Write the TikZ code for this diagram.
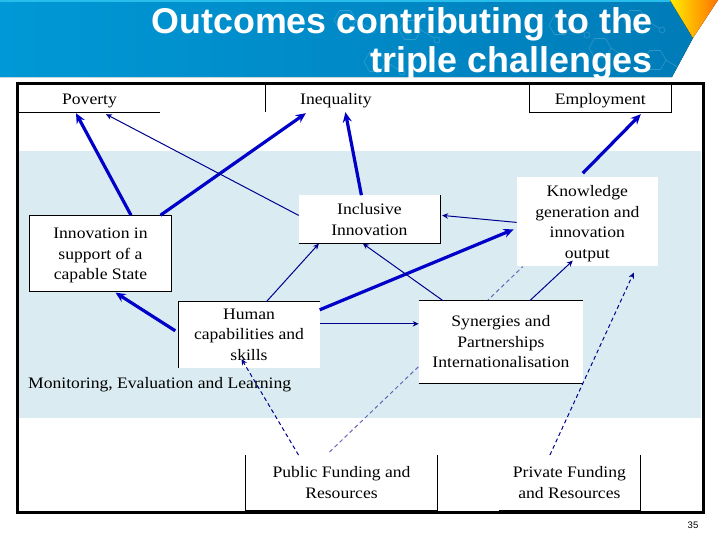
\documentclass[tikz,border=0pt]{standalone}
\usepackage{fontspec}
\setmainfont[FakeStretch=1.1]{Liberation Serif}
\newfontfamily\titlefont{Liberation Sans}
\usetikzlibrary{arrows.meta, positioning, calc, backgrounds}
\definecolor{bandblue}{RGB}{218,236,241}
\definecolor{headtop}{RGB}{0,152,214}
\definecolor{headlow}{RGB}{0,124,184}
\definecolor{headline}{RGB}{40,190,235}
\definecolor{arrowblue}{RGB}{0,0,200}
\definecolor{thinblue}{RGB}{0,0,140}

\begin{document}
\begin{tikzpicture}[
  x=1pt, y=-1pt,
  box/.style={fill=white, inner sep=0pt, minimum width=141pt, align=center,
              font=\fontsize{16}{20.4}\selectfont},
  lowbox/.style={box, text height=14.5pt},
  edge/.style={draw=black, line width=0.8pt},
  thickarr/.style={-{Stealth[length=10pt,width=9pt]}, line width=3.2pt, arrowblue},
  thinarr/.style={-{Stealth[length=6pt,width=5.5pt]}, line width=1pt, thinblue},
  dasharr/.style={-{Stealth[length=6pt,width=5.5pt]}, line width=1pt, thinblue, dash pattern=on 4pt off 3pt},
  hiddenarr/.style={line width=1pt, thinblue!60, dash pattern=on 4pt off 3pt},
  motif/.style={draw=white, opacity=0.18, line width=0.6pt}
]
\useasboundingbox (0,0) rectangle (720,539);
% Header
\fill[left color=headtop, right color=headlow] (0,0) -- (670,0) -- (693,38) -- (672,77) -- (0,77) -- cycle;
\fill[headline] (0,0) rectangle (670,1.5);
\fill[left color=yellow!85!orange, right color=orange!90!red] (670,0) -- (718,0) -- (693,38) -- cycle;
\foreach \cx/\cy in {345/20, 375/62, 410/30, 560/25, 600/48, 635/20, 655/60}{
  \draw[motif] (\cx+11,\cy) -- (\cx+5.5,\cy+9.5) -- (\cx-5.5,\cy+9.5) -- (\cx-11,\cy) -- (\cx-5.5,\cy-9.5) -- (\cx+5.5,\cy-9.5) -- cycle;
  \draw[motif] (\cx+11,\cy) -- (\cx+24,\cy+8);
  \draw[motif] (\cx+27,\cy+10) circle (3);
}
\node[anchor=north east, align=right, text=white, inner sep=0pt, font=\titlefont\fontsize{35.8}{39}\selectfont\bfseries] (title) at (653,7)
  {Outcomes contributing to the\\ triple challenges};
% Frame
\begin{scope}[on background layer]
\node[fill=bandblue, minimum width=682pt, minimum height=267pt, inner sep=0pt] (band) at (360,284.5) {};
\end{scope}
\node[draw=black, line width=3pt, minimum width=686pt, minimum height=429pt, inner sep=0pt] (frame) at (360,298) {};
% Top row
\node[lowbox, minimum height=27pt] (pov) at (89.5,98.5) {Poverty};
\node[lowbox, minimum height=27pt, right=105pt of pov] (ineq) {Inequality};
\node[lowbox, minimum height=27pt, right=123pt of ineq] (emp) {Employment};
% Middle
\node[box, text height=75.8pt, minimum height=89pt, below=65pt of emp, xshift=-13pt] (know) {Knowledge\\ generation and\\ innovation\\ output};
\node[box, minimum height=48pt, left=76.5pt of know, yshift=2.5pt] (incl) {Inclusive\\ Innovation};
\node[box, text height=55.4pt, minimum height=76pt, left=127.5pt of incl, yshift=-34pt] (innov) {Innovation in\\ support of a\\ capable State};
\node[box, minimum height=66pt, below=10pt of innov, xshift=148.5pt] (human) {Human\\ capabilities and\\ skills};
\node[box, minimum width=164pt, minimum height=82pt, right=99pt of human, yshift=-7pt] (syn) {Synergies and\\ Partnerships\\ Internationalisation};
% Bottom row
\node[box, minimum width=192pt, minimum height=55pt, below=87pt of human, xshift=92.5pt] (pub) {Public Funding and\\ Resources};
\node[box, minimum height=55pt, right=61pt of pub] (priv) {Private Funding\\ and Resources};
\node[anchor=west, inner sep=0pt, font=\fontsize{16}{18}\selectfont] (mon) at (28,385) {Monitoring, Evaluation and Learning};
\node[font=\titlefont\fontsize{9.5}{11}\selectfont, inner sep=0pt] (num) at (693,525) {35};
% Dashed line behind the boxes
\begin{scope}[on background layer]
\draw[hiddenarr] ([xshift=-12pt,yshift=3pt]pub.north) -- ([xshift=-64.5pt]know.south);
\end{scope}
% Borders
\draw[edge] (pov.south west) -- (pov.south east);
\draw[edge] (ineq.south west) |- (ineq.north east);
\draw[edge] (emp.north west) |- (emp.south east) -- (emp.north east);
\draw[edge] (innov.south west) rectangle (innov.north east);
\draw[edge] (incl.south west) -| (incl.north east);
\draw[edge] (human.south west) |- (human.north east);
\draw[edge] (syn.north west) -- (syn.north east);
\draw[edge] (syn.south west) -- (syn.south east);
\draw[edge] (pub.north west) |- (pub.south east) -- (pub.north east);
\draw[edge] (priv.south west) -| (priv.north east);
% Arrows
\draw[thickarr] ([xshift=30.5pt]innov.north) -- ([xshift=-13.5pt,yshift=-1pt]pov.south);
\draw[thickarr] ([xshift=60pt]innov.north) -- ([xshift=-30pt,yshift=-1pt]ineq.south);
\draw[thickarr] ([xshift=-8pt]incl.north) -- ([xshift=9.5pt]ineq.south);
\draw[thickarr] ([xshift=-4.5pt,yshift=4pt]know.north) -- ([xshift=40.5pt,yshift=-2pt]emp.south);
\draw[thickarr] ([xshift=-3pt,yshift=4pt]human.west) -- ([xshift=15pt,yshift=-1pt]innov.south);
\draw[thickarr] ([yshift=25pt]human.east) -- ([xshift=-3pt,yshift=-7.5pt]know.west);
\draw[thinarr] ([yshift=4pt]incl.west) -- ([xshift=16.5pt,yshift=-2pt]pov.south);
\draw[thinarr] ([xshift=17.5pt]human.north) -- ([xshift=-50.5pt]incl.south);
\draw[thinarr] ([yshift=11pt]human.east) -- ([yshift=18pt]syn.west);
\draw[thinarr] ([yshift=-.5pt]know.west) -- ([xshift=2pt,yshift=4pt]incl.east);
\draw[thinarr] ([xshift=-58pt]syn.north) -- ([xshift=-6.5pt]incl.south);
\draw[thinarr] ([xshift=29pt]syn.north) -- ([xshift=-14.5pt,yshift=6pt]know.south);
\draw[dasharr] ([xshift=-43pt]pub.north) -- ([xshift=-7.5pt,yshift=9pt]human.south);
\draw[dasharr] ([xshift=-19.5pt]priv.north) -- ([xshift=46.5pt,yshift=-6pt]know.south);
\end{tikzpicture}
\end{document}
